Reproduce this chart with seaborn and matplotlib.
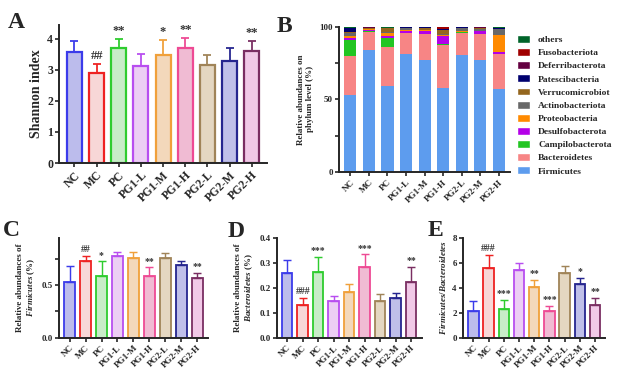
import numpy as np
import pandas as pd
import matplotlib
matplotlib.use("Agg")
import matplotlib.pyplot as plt
from matplotlib.patches import Patch
import seaborn as sns

sns.set_theme(style="ticks")
plt.rcParams['font.family'] = ['Liberation Serif', 'DejaVu Serif']
plt.rcParams['font.weight'] = 'bold'
plt.rcParams['axes.labelweight'] = 'bold'
plt.rcParams['mathtext.fontset'] = 'custom'
plt.rcParams['mathtext.it'] = 'Liberation Serif:italic:bold'
plt.rcParams['mathtext.rm'] = 'Liberation Serif:bold'

groups = ["NC", "MC", "PC", "PG1-L", "PG1-M", "PG1-H", "PG2-L", "PG2-M", "PG2-H"]
edge_cols = ["#3b3bea", "#ee2222", "#2ecc2e", "#b84ef0", "#f0a03a",
             "#ee4a94", "#a08458", "#25258f", "#7a2e62"]
fill_cols = ["#b4b4f4", "#fcd2d2", "#c2f2c2", "#f0c8fa", "#fcd8b2",
             "#f9b2d2", "#ead9bb", "#b8b8f0", "#f8c2ea"]

# A: Shannon index
shannon = [3.58, 2.90, 3.72, 3.12, 3.48, 3.72, 3.15, 3.30, 3.60]
shannon_err = [0.35, 0.30, 0.28, 0.38, 0.48, 0.30, 0.32, 0.42, 0.32]
shannon_sig = ["", "##", "**", "", "*", "**", "", "", "**"]

# B: phylum composition (%)
phyla = ["Firmicutes", "Bacteroidetes", "Campilobacterota", "Desulfobacterota",
         "Proteobacteria", "Actinobacteriota", "Verrucomicrobiot", "Patescibacteria",
         "Deferribacterota", "Fusobacteriota", "others"]
phyla_cols = ["#5d9cee", "#f78585", "#22c522", "#b400e8", "#ff8a00", "#686868",
              "#94661e", "#00006e", "#640040", "#a00000", "#00642a"]
firmicutes = [53, 84, 59, 81.5, 77, 58, 80.5, 77, 57]
bacteroidetes = [27, 12.7, 27, 14.0, 18, 29.5, 15.5, 17.8, 24]
campilobacterota = [11, 0.3, 6, 0.2, 0.2, 1, 0.2, 0.2, 0.3]
desulfobacterota = [1.5, 1, 1.5, 1.5, 2, 5.5, 0.5, 2, 1.5]
proteobacteria = [1, 0.3, 2.5, 0.3, 0.3, 0.5, 0.3, 0.3, 11.5]
actinobacteriota = [2.5, 0.5, 0.5, 1.5, 0.5, 0.5, 2, 1.5, 4]
verrucomicrobiot = [0.5, 0.5, 2.5, 0.5, 1.5, 3, 0.5, 0.5, 0.5]
patescibacteria = [2.5, 0.1, 0.2, 0.1, 0.1, 0.2, 0.1, 0.1, 0.1]
deferribacterota = [0.2, 0.2, 0.2, 0.1, 0.1, 0.5, 0.1, 0.3, 0.2]
fusobacteriota = [0.1, 0.1, 0.1, 0.1, 0.1, 1, 0.1, 0.1, 0.1]
others = [0.7, 0.3, 0.5, 0.2, 0.2, 0.3, 0.2, 0.2, 0.8]

# C: Firmicutes relative abundance
firm_rel = [0.53, 0.73, 0.59, 0.78, 0.76, 0.59, 0.76, 0.69, 0.57]
firm_err = [0.15, 0.05, 0.14, 0.04, 0.06, 0.08, 0.05, 0.04, 0.05]
firm_sig = ["", "##", "*", "", "", "**", "", "", "**"]

# D: Bacteroidetes relative abundance
bact_rel = [0.26, 0.13, 0.265, 0.145, 0.185, 0.285, 0.145, 0.16, 0.225]
bact_err = [0.05, 0.03, 0.06, 0.02, 0.03, 0.05, 0.03, 0.02, 0.06]
bact_sig = ["", "###", "***", "", "", "***", "", "", "**"]

# E: F/B ratio
fb_ratio = [2.1, 5.55, 2.3, 5.4, 4.05, 2.1, 5.2, 4.3, 2.6]
fb_err = [0.85, 1.1, 0.75, 0.6, 0.6, 0.45, 0.55, 0.5, 0.6]
fb_sig = ["", "###", "***", "", "**", "***", "", "*", "**"]

fig = plt.figure(figsize=(6.19, 3.73), dpi=100)


def bar_panel(rect, vals, errs, sigs, ylim, yticks, yticklabels, ylabel,
              tick_fs, lab_fs, sig_fs, lw):
    ax = fig.add_axes(rect)
    df = pd.DataFrame({"group": groups, "value": vals})
    sns.barplot(data=df, x="group", y="value", hue="group", order=groups,
                hue_order=groups, palette=fill_cols, legend=False, width=0.68,
                errorbar=None, linewidth=lw, ax=ax)
    for p, ec in zip(ax.patches, edge_cols):
        p.set_edgecolor(ec)
    rng = ylim[1] - ylim[0]
    for i, (v, e, s, ec) in enumerate(zip(vals, errs, sigs, edge_cols)):
        ax.errorbar(i, v, yerr=[[0], [e]], fmt="none", ecolor=ec,
                    elinewidth=lw * 0.8, capsize=3, capthick=lw * 0.8)
        if s:
            ax.text(i, v + e + 0.015 * rng, s, ha="center", va="bottom",
                    fontsize=sig_fs, color="#333333")
    ax.set_xlim(-0.68, 8.68)
    ax.set_ylim(*ylim)
    ax.set_yticks(yticks)
    ax.set_yticklabels(yticklabels, fontsize=tick_fs)
    ax.set_xticks(range(9))
    ax.set_xticklabels(groups, rotation=45, ha="right", rotation_mode="anchor",
                       fontsize=tick_fs)
    ax.set_xlabel("")
    ax.set_ylabel(ylabel, fontsize=lab_fs, labelpad=3)
    sns.despine(ax=ax)
    for sp in ["left", "bottom"]:
        ax.spines[sp].set_linewidth(1.4)
    ax.tick_params(width=1.2, length=3, pad=1.5)
    return ax


# Panel A
bar_panel([0.096, 0.563, 0.335, 0.37], shannon, shannon_err, shannon_sig,
          (0, 4.45), [0, 1, 2, 3, 4], ["0", "1", "2", "3", "4"],
          "Shannon index", 8.5, 10, 9, 1.6)

# Panel C
bar_panel([0.095, 0.095, 0.241, 0.267], firm_rel, firm_err, firm_sig,
          (0, 0.95), [0, 0.25, 0.5, 0.75], ["0.0", "", "0.5", ""],
          "Relative abundances of\n$\\it{Firmicutes}$ (%)", 6.5, 6.5, 7, 1.3)

# Panel D
bar_panel([0.447, 0.095, 0.234, 0.267], bact_rel, bact_err, bact_sig,
          (0, 0.4), [0, 0.1, 0.2, 0.3, 0.4], ["0.0", "0.1", "0.2", "0.3", "0.4"],
          "Relative abundances of\n$\\it{Bacteroidetes}$ (%)", 6.5, 6.5, 7, 1.3)

# Panel E
bar_panel([0.748, 0.095, 0.23, 0.267], fb_ratio, fb_err, fb_sig,
          (0, 8), [0, 2, 4, 6, 8], ["0", "2", "4", "6", "8"],
          "$\\it{Firmicutes/Bacteroidetes}$", 6.5, 6.5, 7, 1.3)

# Panel B: stacked composition (seaborn stacks first hue on top, so reverse)
axb = fig.add_axes([0.548, 0.539, 0.276, 0.389])
series = [firmicutes, bacteroidetes, campilobacterota, desulfobacterota,
          proteobacteria, actinobacteriota, verrucomicrobiot, patescibacteria,
          deferribacterota, fusobacteriota, others]
long = pd.DataFrame({
    "group": np.tile(groups, len(phyla)),
    "phylum": np.repeat(phyla, len(groups)),
    "value": np.concatenate(series),
})
sns.histplot(data=long, x="group", weights="value", hue="phylum",
             hue_order=phyla[::-1], palette=phyla_cols[::-1], multiple="stack",
             discrete=True, shrink=0.65, linewidth=0, alpha=1,
             legend=False, ax=axb)
axb.set_xlim(-0.6, 8.6)
axb.set_ylim(0, 100)
axb.set_yticks([0, 25, 50, 75, 100])
axb.set_yticklabels(["0", "", "50", "", "100"], fontsize=6.5)
axb.set_xticks(range(9))
axb.set_xticklabels(groups, rotation=45, ha="right", rotation_mode="anchor",
                    fontsize=6.5)
axb.set_xlabel("")
axb.set_ylabel("Relative abundances on\nphylum level (%)", fontsize=6.5)
sns.despine(ax=axb)
for sp in ["left", "bottom"]:
    axb.spines[sp].set_linewidth(1.4)
axb.tick_params(width=1.2, length=3, pad=1.5)
handles = [Patch(facecolor=c, label=n) for n, c in zip(phyla, phyla_cols)][::-1]
axb.legend(handles=handles, loc="upper left", bbox_to_anchor=(1.02, 0.97),
           frameon=False, fontsize=6.8, handlelength=1.4, handleheight=0.9,
           labelspacing=0.42, borderaxespad=0, handletextpad=0.8)

# panel letters
for lab, x, y in [("A", 0.012, 0.925), ("B", 0.447, 0.915),
                  ("C", 0.004, 0.368), ("D", 0.368, 0.365), ("E", 0.690, 0.368)]:
    fig.text(x, y, lab, fontsize=17, fontweight="bold")

fig.savefig("out.png", dpi=100)
